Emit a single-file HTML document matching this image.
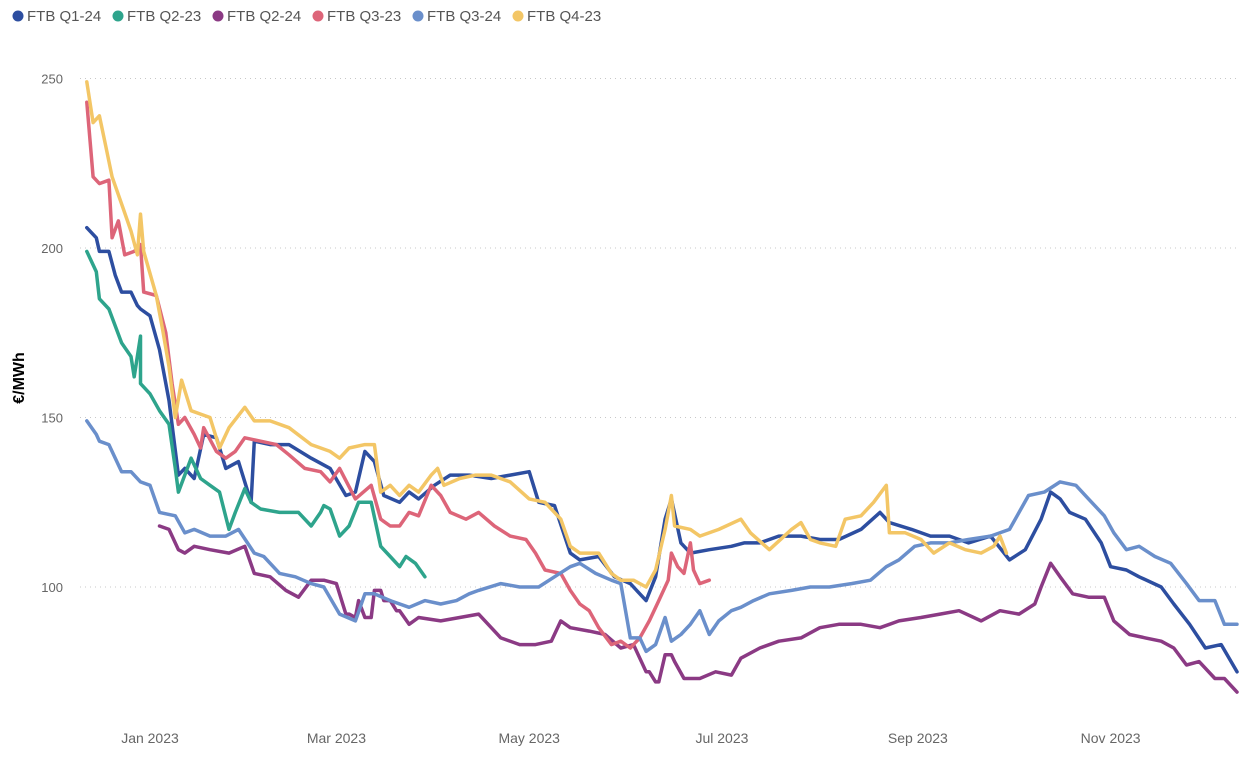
<!DOCTYPE html>
<html><head><meta charset="utf-8"><style>
body{margin:0;background:#fff;font-family:"Liberation Sans",sans-serif;}
svg{display:block}
</style></head><body>
<svg id="chart" width="1247" height="760">
<g id="legend"></g>
<g id="grid"></g>
<g id="yaxis"></g>
<g id="xaxis"></g>
<text x="24" y="378" transform="rotate(-90 24 378)" text-anchor="middle" font-size="16" font-weight="bold" fill="#000">€/MWh</text>
<g id="series"></g>
</svg>
<script>
// days are offsets from 1 Jan 2023
const seriesNames=["FTB Q1-24","FTB Q2-23","FTB Q2-24","FTB Q3-23","FTB Q3-24","FTB Q4-23"];
const seriesColors=["#2D4EA0","#2EA48C","#8B3A84","#DD6579","#6A8FCB","#F3C666"];
const yTicks=[100,150,200,250];
const xTickDays=[0,59,120,181,243,304];
const xTickLabels=["Jan 2023","Mar 2023","May 2023","Jul 2023","Sep 2023","Nov 2023"];

const q124Days=[-20,-17,-16,-13,-11,-9,-6,-4,-3,0,3,6,9,11,14,17,21,24,28,32,33,38,44,51,57,62,65,68,71,74,79,82,85,90,95,101,108,114,120,123,128,133,136,142,147,152,157,160,163,165,168,171,177,184,188,193,199,206,212,218,225,231,234,241,247,253,259,266,272,277,282,285,288,291,296,301,304,309,313,320,324,329,334,339,344];
const q124Vals=[206,203,199,199,192,187,187,183,182,180,170,155,133,135,132,145,144,135,137,125,143,142,142,138,135,127,128,140,137,127,125,128,126,130,133,133,132,133,134,125,124,110,108,109,103,101,96,103,120,126,113,110,111,112,113,113,115,115,114,114,117,122,119,117,115,115,113,115,108,111,120,128,126,122,120,113,106,105,103,100,95,89,82,83,75];

const q223Days=[-20,-17,-16,-13,-9,-6,-5,-3,-3,0,3,6,8,9,13,16,19,22,25,27,30,32,35,41,47,51,54,55,57,60,63,66,70,73,76,79,81,84,87];
const q223Vals=[199,193,185,182,172,168,162,174,160,157,152,148,135,128,138,132,130,128,117,122,129,125,123,122,122,118,122,124,123,115,118,125,125,112,109,106,109,107,103];

const q224Days=[3,6,9,11,14,19,25,30,33,38,43,47,51,55,59,62,63,65,66,68,70,71,73,74,76,78,79,82,85,92,98,104,108,111,117,122,127,130,133,139,144,149,153,157,158,160,161,163,165,166,169,174,179,184,187,193,199,206,212,218,225,231,237,244,250,256,263,269,275,280,282,285,288,292,297,302,305,310,315,320,324,328,332,337,340,344];
const q224Vals=[118,117,111,110,112,111,110,112,104,103,99,97,102,102,101,92,92,91,96,91,91,99,99,96,96,93,93,89,91,90,91,92,88,85,83,83,84,90,88,87,86,82,83,75,75,72,72,80,80,78,73,73,75,74,79,82,84,85,88,89,89,88,90,91,92,93,90,93,92,95,100,107,103,98,97,97,90,86,85,84,82,77,78,73,73,69];

const q323Days=[-20,-18,-16,-13,-12,-10,-8,-5,-3,-2,2,5,7,9,11,14,16,17,21,24,27,30,35,40,44,49,54,57,60,65,70,73,76,79,82,85,89,92,95,100,104,109,114,119,122,125,130,133,136,139,142,146,149,152,155,158,161,164,165,167,169,171,172,174,177];
const q323Vals=[243,221,219,220,203,208,198,199,201,187,186,175,160,148,150,145,141,147,140,138,140,144,143,142,139,135,134,131,135,126,130,120,118,118,122,121,130,127,122,120,122,118,115,114,110,105,104,99,95,93,88,83,84,82,85,90,96,102,110,106,104,113,105,101,102];

const q324Days=[-20,-17,-16,-13,-9,-6,-3,0,3,8,11,14,19,24,28,33,36,41,46,51,55,60,65,68,71,76,82,87,92,97,101,104,111,117,123,128,133,136,141,146,149,152,155,157,160,163,165,168,171,174,177,180,184,187,191,196,203,209,215,222,228,233,237,242,247,253,259,266,272,278,283,288,293,297,302,305,309,313,318,323,328,332,337,340,344];
const q324Vals=[149,145,143,142,134,134,131,130,122,121,116,117,115,115,117,110,109,104,103,101,100,92,90,98,98,96,94,96,95,96,98,99,101,100,100,103,106,107,104,102,101,85,85,81,83,91,84,86,89,93,86,90,93,94,96,98,99,100,100,101,102,106,108,112,113,113,114,115,117,127,128,131,130,126,121,116,111,112,109,107,101,96,96,89,89];

const q423Days=[-20,-18,-16,-14,-12,-9,-6,-4,-3,-2,2,4,6,8,10,13,16,19,22,25,30,33,38,44,51,57,60,63,68,71,73,76,79,82,85,89,91,93,98,103,108,114,120,125,130,133,136,142,146,149,153,157,160,163,165,166,171,174,180,187,190,196,203,206,209,212,217,220,225,229,233,234,239,244,248,253,258,263,267,269,271];
const q423Vals=[249,237,239,230,221,213,205,198,210,199,186,176,165,150,161,152,151,150,141,147,153,149,149,147,142,140,138,141,142,142,128,130,127,130,128,133,135,130,132,133,133,131,126,125,120,112,110,110,104,102,102,100,105,117,127,118,117,115,117,120,116,111,117,119,114,113,112,120,121,125,130,116,116,114,110,113,111,110,112,115,110];

const allDays=[q124Days,q223Days,q224Days,q323Days,q324Days,q423Days];
const allVals=[q124Vals,q223Vals,q224Vals,q323Vals,q324Vals,q423Vals];

const NS="http://www.w3.org/2000/svg";
function xScale(d){return 150+d*3.16;}
function yScale(v){return 587-(v-100)*3.39;}
function mk(tag,attrs,parent){const e=document.createElementNS(NS,tag);for(const k in attrs)e.setAttribute(k,attrs[k]);parent.appendChild(e);return e;}

const grid=document.getElementById('grid'),yaxis=document.getElementById('yaxis'),xaxis=document.getElementById('xaxis');
yTicks.forEach(v=>{
  const l=mk('line',{x1:80,x2:1240,y1:yScale(v),y2:yScale(v),stroke:'#c8c8c8','stroke-dasharray':'1,4','stroke-width':1},grid);
  
  
  const t=mk('text',{x:63,y:yScale(v)+5,'text-anchor':'end','font-size':13,fill:'#666'},yaxis);
  t.textContent=v;
  
  
});
xTickDays.forEach((d,i)=>{
  const t=mk('text',{x:xScale(d),y:743,'text-anchor':'middle','font-size':14,fill:'#666'},xaxis);
  t.textContent=xTickLabels[i];
  
  
});
const sg=document.getElementById('series');
allDays.forEach((days,i)=>{
  const pts=days.map((d,j)=>xScale(d).toFixed(1)+','+yScale(allVals[i][j]).toFixed(1)).join(' ');
  const p=mk('polyline',{points:pts,fill:'none',stroke:seriesColors[i],'stroke-width':3.5,'stroke-linejoin':'round','stroke-linecap':'round'},sg);
  
  
});
const lg=document.getElementById('legend');
const legX=[18,118,218,318,418,518];
seriesNames.forEach((n,i)=>{
  const g=mk('g',{},lg);
  
  
  mk('circle',{cx:legX[i],cy:16,r:5.5,fill:seriesColors[i]},g);
  const t=mk('text',{x:legX[i]+9,y:21,'font-size':15,fill:'#555'},g);
  t.textContent=n;
});
</script>
</body></html>
